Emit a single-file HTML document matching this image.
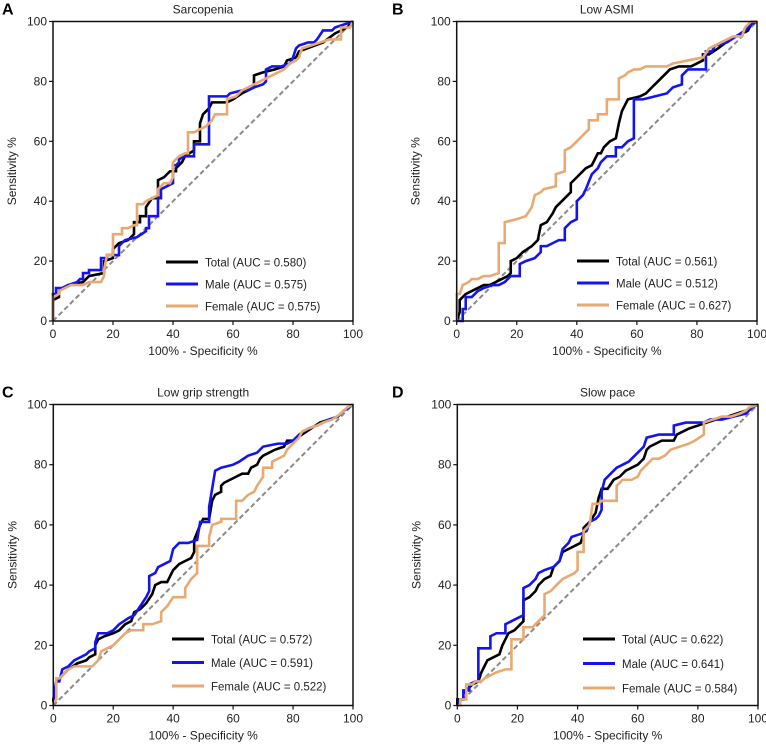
<!DOCTYPE html>
<html><head><meta charset="utf-8">
<style>
body{margin:0;background:#fff;}
svg{display:block;font-family:"Liberation Sans",sans-serif;}
</style></head>
<body>
<svg id="chart" width="766" height="745" viewBox="0 0 766 745"></svg>
<script>
const tickLabels = [0,20,40,60,80,100];
const seriesNames = ["Total","Male","Female"];
const panelTitles = ["Sarcopenia","Low ASMI","Low grip strength","Slow pace"];
const panelLetters = ["A","B","C","D"];
const aucA = ["0.580","0.575","0.575"];
const aucB = ["0.561","0.512","0.627"];
const aucC = ["0.572","0.591","0.522"];
const aucD = ["0.622","0.641","0.584"];

const aTotal = [[0,0],[0,7],[2,8],[2,10],[5,12],[10,13],[12,15],[17,16],[17,20],[20,21],[20,24],[22,26],[25,27],[27,29],[27,33],[29,33],[29,35],[31,35],[31,38],[33,41],[35,41],[35,47],[37,48],[39,50],[41,50],[41,51],[43,53],[44,55],[47,57],[47,60],[49,60],[49,66],[50,69],[52,71],[53,73],[58,73],[60,74],[63,76],[67,78],[67,82],[70,83],[74,84],[77,85],[78,87],[81,88],[82,90],[90,93],[94,96],[98,98],[100,100]];
const aMale = [[0,0],[0,9],[1,9],[1,11],[3,11],[5,12],[8,13],[9,14],[10,14],[10,16],[12,16],[12,17],[16,17],[16,21],[18,21],[18,22],[22,22],[22,25],[24,27],[28,28],[31,30],[31,31],[32,31],[32,35],[35,35],[35,41],[36,41],[36,44],[38,45],[40,46],[40,52],[41,52],[42,53],[42,54],[44,55],[47,55],[47,59],[52,59],[52,75],[58,75],[59,76],[63,77],[65,77],[67,78],[70,79],[71,80],[71,84],[73,85],[76,85],[79,86],[80,88],[81,91],[82,92],[85,93],[87,93],[88,94],[90,97],[93,97],[94,98],[97,99],[100,100]];
const aFemale = [[0,0],[0,8],[2,9],[2,10],[4,11],[6,12],[10,12],[12,13],[16,13],[17,15],[17,17],[18,22],[20,22],[20,29],[23,29],[23,31],[25,31],[27,32],[28,32],[28,39],[30,39],[31,40],[33,41],[35,42],[35,44],[37,46],[39,46],[40,48],[40,53],[42,55],[44,56],[45,56],[45,63],[47,63],[51,65],[53,67],[54,69],[58,69],[58,74],[61,75],[63,77],[65,78],[67,79],[69,80],[71,81],[73,82],[75,83],[77,84],[79,86],[81,87],[82,88],[83,91],[86,92],[89,93],[92,94],[96,94],[96,98],[99,98],[100,100]];

const bTotal = [[0,0],[1,3],[1,7],[3,9],[5,10],[7,11],[9,12],[11,12],[13,13],[15,14],[17,15],[18,16],[18,20],[20,21],[22,23],[25,25],[27,27],[28,32],[30,33],[32,36],[33,38],[35,40],[37,42],[38,43],[38,46],[40,48],[43,51],[45,52],[47,56],[48,56],[49,58],[51,60],[53,61],[54,66],[55,70],[57,74],[61,75],[63,76],[65,78],[67,80],[69,82],[71,84],[74,85],[78,85],[80,86],[82,87],[82,89],[84,89],[87,91],[91,94],[95,96],[97,97],[98,99],[100,100]];
const bMale = [[0,0],[2,0],[2,4],[3,4],[3,8],[5,8],[7,10],[9,11],[12,12],[14,12],[16,13],[17,14],[18,15],[21,15],[21,19],[23,20],[26,21],[28,23],[28,25],[30,25],[32,26],[34,27],[36,27],[36,31],[38,33],[40,34],[40,40],[42,42],[43,44],[45,49],[47,51],[48,53],[50,55],[53,55],[53,58],[55,58],[57,60],[59,61],[59,74],[62,74],[66,75],[70,76],[72,78],[75,79],[75,82],[77,84],[83,84],[83,90],[85,90],[86,92],[90,93],[93,95],[96,97],[98,99],[100,100]];
const bFemale = [[0,0],[0,9],[1,9],[2,12],[4,13],[5,14],[7,14],[9,15],[11,15],[14,16],[14,26],[16,26],[16,33],[20,34],[23,35],[25,38],[26,42],[28,43],[29,44],[33,45],[33,49],[36,50],[36,57],[38,58],[40,60],[42,62],[44,64],[44,67],[47,67],[47,69],[50,69],[50,74],[54,74],[54,81],[56,82],[57,83],[59,84],[61,84],[63,85],[70,85],[72,86],[77,87],[82,88],[84,91],[86,92],[88,93],[90,94],[92,95],[95,95],[96,98],[98,100],[100,100]];

const cTotal = [[0,0],[0,2],[1,8],[3,10],[5,12],[8,14],[11,15],[12,16],[14,17],[14,20],[15,22],[17,23],[20,24],[22,25],[24,27],[26,28],[27,31],[29,32],[31,34],[33,37],[34,40],[36,41],[38,41],[40,45],[42,47],[44,48],[46,49],[47,51],[47,55],[49,60],[50,62],[52,62],[53,68],[54,70],[56,71],[56,73],[57,74],[59,75],[61,76],[63,77],[65,77],[66,79],[68,80],[69,82],[70,83],[72,84],[74,85],[77,86],[78,88],[80,88],[83,90],[86,92],[89,94],[92,95],[95,96],[97,98],[100,100]];
const cMale = [[0,0],[1,8],[2,8],[3,12],[5,13],[7,15],[9,16],[11,17],[12,18],[14,19],[14,21],[15,24],[18,24],[20,25],[22,27],[25,29],[27,30],[29,33],[31,36],[32,38],[32,43],[34,44],[35,46],[37,47],[39,48],[40,52],[42,54],[45,54],[48,55],[49,61],[52,61],[52,66],[53,72],[54,78],[56,79],[60,80],[62,81],[65,83],[68,84],[70,86],[75,87],[78,87],[80,88],[82,90],[85,92],[88,93],[92,95],[95,96],[97,98],[100,100]];
const cFemale = [[0,0],[0,1],[1,2],[1,9],[2,9],[3,10],[5,12],[7,13],[13,13],[15,15],[16,18],[18,19],[20,20],[22,22],[24,24],[26,25],[30,25],[30,27],[33,27],[36,28],[36,31],[38,33],[40,36],[44,36],[44,39],[46,42],[48,44],[48,53],[52,53],[52,56],[53,60],[56,61],[56,62],[61,62],[61,68],[63,68],[65,70],[67,71],[68,73],[70,76],[70,79],[73,79],[73,81],[75,82],[77,83],[78,85],[80,87],[82,89],[83,91],[85,92],[88,93],[90,94],[93,95],[96,97],[98,99],[100,100]];

const dTotal = [[0,0],[0,2],[2,2],[2,4],[3,5],[5,7],[7,8],[8,11],[9,13],[10,15],[12,16],[14,17],[15,20],[16,22],[17,24],[19,25],[20,26],[22,28],[22,35],[24,36],[26,38],[27,40],[29,42],[31,43],[32,46],[34,48],[35,51],[37,52],[39,53],[41,54],[42,57],[42,59],[44,61],[46,64],[47,69],[48,72],[50,72],[52,75],[54,76],[56,78],[58,79],[60,80],[62,82],[63,85],[64,86],[66,87],[68,88],[72,88],[73,90],[75,91],[77,92],[80,93],[83,94],[86,95],[90,96],[93,97],[96,98],[100,100]];
const dMale = [[0,0],[1,2],[2,2],[2,5],[4,5],[4,7],[6,8],[7,8],[7,19],[11,19],[11,23],[13,24],[16,24],[16,27],[18,28],[20,29],[22,30],[22,39],[24,40],[26,42],[27,44],[29,45],[32,46],[34,48],[35,52],[37,54],[38,56],[41,57],[43,58],[44,61],[46,62],[47,63],[48,65],[48,71],[49,75],[51,77],[53,79],[55,80],[57,81],[59,83],[60,84],[62,86],[63,89],[67,90],[72,90],[72,93],[76,94],[82,94],[84,95],[88,95],[92,96],[96,97],[98,99],[100,100]];
const dFemale = [[0,0],[1,0],[1,2],[3,2],[3,7],[5,7],[6,8],[8,8],[9,9],[11,10],[13,11],[16,12],[18,12],[18,22],[22,22],[22,26],[25,26],[27,28],[29,30],[29,37],[31,38],[33,40],[35,42],[37,43],[39,44],[40,45],[40,51],[42,51],[42,58],[44,60],[45,67],[47,67],[48,68],[53,68],[53,73],[55,75],[58,75],[60,76],[61,78],[63,80],[65,82],[67,82],[69,83],[71,85],[74,86],[77,87],[79,88],[82,90],[82,94],[85,95],[88,96],[91,96],[94,97],[96,98],[97,99],[100,100]];

const colors = ["#000000","#1414f0","#e8aa72"];
const panels = [
  {x0:53,x1:353,y0:321,y1:21.5,series:[aTotal,aMale,aFemale],auc:aucA,legX:166,legY:262,legDy:22},
  {x0:456.7,x1:757,y0:321,y1:21.5,series:[bTotal,bMale,bFemale],auc:aucB,legX:577,legY:261,legDy:22},
  {x0:53.3,x1:353,y0:705.5,y1:404.5,series:[cTotal,cMale,cFemale],auc:aucC,legX:172,legY:639,legDy:23.5},
  {x0:457.3,x1:758,y0:705.5,y1:404.5,series:[dTotal,dMale,dFemale],auc:aucD,legX:583,legY:639,legDy:24.5}
];
const NS="http://www.w3.org/2000/svg";
const svg=document.getElementById('chart');
function mk(tag,attrs,parent){const e=document.createElementNS(NS,tag);for(const k in attrs)e.setAttribute(k,attrs[k]);(parent||svg).appendChild(e);return e;}

panels.forEach((p,i)=>{
  const g=mk('g',{});
  
  
  const sx=v=>p.x0+(p.x1-p.x0)*v/100;
  const sy=v=>p.y0+(p.y1-p.y0)*v/100;
  const L=mk('text',{x:(i%2?392:2),y:p.y1-7,'font-size':16,'font-weight':'bold'},g);L.textContent=panelLetters[i];
  
  
  const T=mk('text',{x:(p.x0+p.x1)/2,y:p.y1-8,'font-size':12,'text-anchor':'middle',fill:'#222'},g);T.textContent=panelTitles[i];
  
  
  const d=mk('line',{x1:sx(0),y1:sy(0),x2:sx(100),y2:sy(100),stroke:'#8a8a8a','stroke-width':2,'stroke-dasharray':'5,3'},g);
  
  
  p.series.forEach((s,k)=>{
    const pl=mk('polyline',{points:s.map(q=>sx(q[0])+','+sy(q[1])).join(' '),fill:'none',stroke:colors[k],'stroke-width':2.6,'stroke-linejoin':'miter'},g);
    
    
  });
  const fr=mk('rect',{x:p.x0,y:p.y1,width:p.x1-p.x0,height:p.y0-p.y1,fill:'none',stroke:'#111','stroke-width':1.5},g);
  
  
  tickLabels.forEach(t=>{
    mk('line',{x1:sx(t),y1:p.y0,x2:sx(t),y2:p.y0+4,stroke:'#111','stroke-width':1.2},g);
    const xt=mk('text',{x:sx(t),y:p.y0+17,'font-size':12,'text-anchor':'middle',fill:'#222'},g);xt.textContent=t;
    
    
    mk('line',{x1:p.x0-4,y1:sy(t),x2:p.x0,y2:sy(t),stroke:'#111','stroke-width':1.2},g);
    const yt=mk('text',{x:p.x0-6,y:sy(t)+4,'font-size':12,'text-anchor':'end',fill:'#222'},g);yt.textContent=t;
    
    
  });
  const xa=mk('text',{x:(p.x0+p.x1)/2,y:p.y0+34,'font-size':12,'text-anchor':'middle',fill:'#222'},g);xa.textContent='100% - Specificity %';
  
  
  const yx=p.x0-37, yc=(p.y0+p.y1)/2;
  const ya=mk('text',{x:yx,y:yc,'font-size':12,'text-anchor':'middle',fill:'#222',transform:'rotate(-90 '+yx+' '+yc+')'},g);ya.textContent='Sensitivity %';
  
  
  seriesNames.forEach((n,k)=>{
    const ly=p.legY+k*p.legDy;
    const ll=mk('line',{x1:p.legX,y1:ly,x2:p.legX+32,y2:ly,stroke:colors[k],'stroke-width':3},g);
    
    
    const lt=mk('text',{x:p.legX+39,y:ly+4.5,'font-size':11.5,fill:'#222'},g);lt.textContent=n+' (AUC = '+p.auc[k]+')';
    
    
  });
});
</script>
</body></html>
